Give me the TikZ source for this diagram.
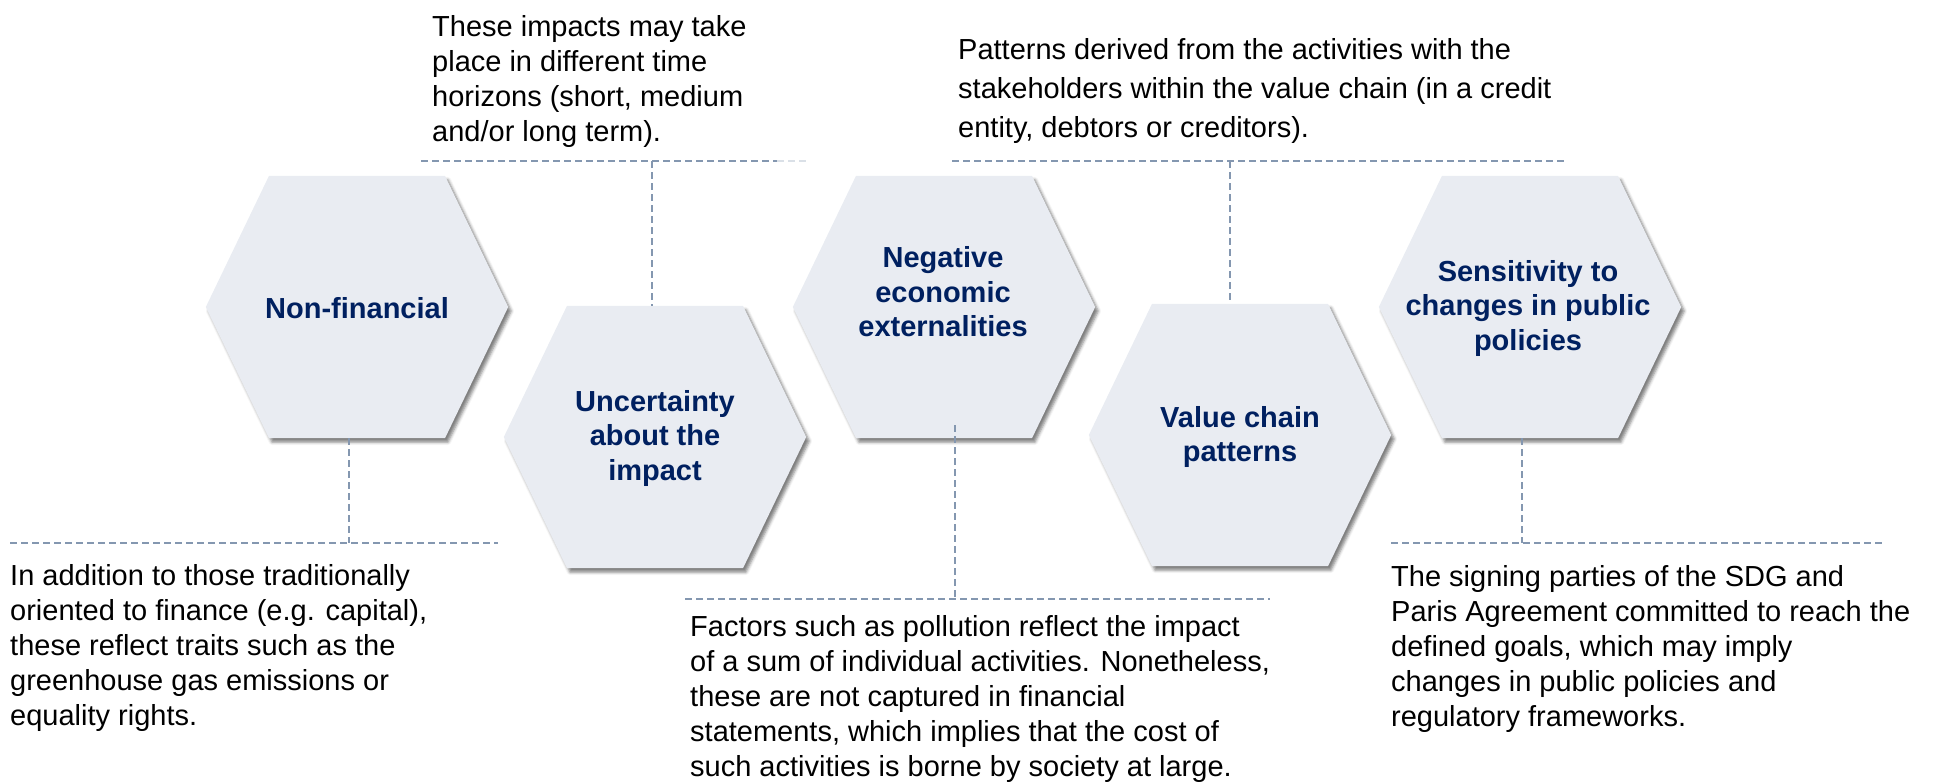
\documentclass[tikz,border=0pt]{standalone}
\usepackage{fontspec}
\setmainfont{Liberation Sans}
\usetikzlibrary{shadows,shadows.blur,backgrounds}
\definecolor{hexfill}{RGB}{233,236,242}
\definecolor{hextext}{RGB}{0,32,96}
\definecolor{dashcol}{RGB}{132,151,176}

\begin{document}
\begin{tikzpicture}[x=1pt,y=-1pt,
  hexbox/.style={rectangle, minimum width=302pt, minimum height=262pt, inner sep=0pt},
  hexbody/.style={fill=hexfill, blur shadow={shadow xshift=3pt, shadow yshift=-4pt,
      shadow blur radius=3pt, shadow opacity=50}},
  hexlabel/.style={font=\bfseries\fontsize{29}{34.5}\selectfont, text=hextext,
      align=center, inner sep=0pt},
  % notes are placed by the baseline of their last line
  note/.style={font=\fontsize{29}{35}\selectfont, align=left, inner sep=0pt, anchor=base west},
  link/.style={draw=dashcol, line width=2pt, dash pattern=on 7pt off 4pt},
]
\useasboundingbox (0,0) rectangle (1935,782);

% hexagon frames
\node[hexbox] (h1) at (357,307) {};
\node[hexbox] (h2) at (655,437) {};
\node[hexbox] (h3) at (944,307) {};
\node[hexbox] (h4) at (1240,435) {};
\node[hexbox] (h5) at (1530,307) {};

\begin{scope}[on background layer]
  \foreach \h in {h1,h2,h3,h4,h5}{
    \path[hexbody] ([xshift=-88pt]\h.north) -- ([xshift=88pt]\h.north) -- (\h.east)
      -- ([xshift=88pt]\h.south) -- ([xshift=-88pt]\h.south) -- (\h.west) -- cycle;
  }
\end{scope}

% hexagon titles
\node[hexlabel] (t1) at (357,308) {Non-financial};
\node[hexlabel] (t2) at (655,438) {Uncertainty\\about the\\impact};
\node[hexlabel] (t3) at (943,292) {Negative\\economic\\externalities};
\node[hexlabel] (t4) at (1240,437) {Value chain\\patterns};
\node[hexlabel] (t5) at (1528,308) {Sensitivity to\\changes in public\\policies};

% explanatory notes
\node[note] (n1) at (10,725) {In addition to those traditionally\\oriented to finance (e.g. capital),\\these reflect traits such as the\\greenhouse gas emissions or\\equality rights.};
\node[note] (n2) at (432,141) {These impacts may take\\place in different time\\horizons (short, medium\\and/or long term).};
\node[note] (n3) at (690,776) {Factors such as pollution reflect the impact\\of a sum of individual activities. Nonetheless,\\these are not captured in financial\\statements, which implies that the cost of\\such activities is borne by society at large.};
\node[note, font=\fontsize{29}{39}\selectfont] (n4) at (958,137) {Patterns derived from the activities with the\\stakeholders within the value chain (in a credit\\entity, debtors or creditors).};
\node[note] (n5) at (1391,726) {The signing parties of the SDG and\\Paris Agreement committed to reach the\\defined goals, which may imply\\changes in public policies and\\regulatory frameworks.};

% dashed leader lines
\coordinate (a1) at (10,543);   \coordinate (b1) at (498,543);  \coordinate (j1) at (349,543);
\coordinate (a2) at (421,161);  \coordinate (b2) at (777,161);  \coordinate (c2) at (807,161);
\coordinate (j2) at (652,161);
\coordinate (a3) at (685,599);  \coordinate (b3) at (1270,599); \coordinate (j3) at (955,599);
\coordinate (s3) at (955,425);
\coordinate (a4) at (952,161);  \coordinate (b4) at (1567,161); \coordinate (j4) at (1230,161);
\coordinate (a5) at (1391,543); \coordinate (b5) at (1884,543); \coordinate (j5) at (1522,543);

\draw[link] (a1) -- (b1);
\draw[link] (h1.south -| j1) -- (j1);

\draw[link] (a2) -- (b2);
\draw[link, draw opacity=0.3] (b2) -- (c2);
\draw[link] (j2) -- (h2.north -| j2);

\draw[link] (a3) -- (b3);
\draw[link] (s3) -- (j3);

\draw[link] (a4) -- (b4);
\draw[link] (j4) -- (h4.north -| j4);

\draw[link] (a5) -- (b5);
\draw[link] (h5.south -| j5) -- (j5);
\end{tikzpicture}
\end{document}
